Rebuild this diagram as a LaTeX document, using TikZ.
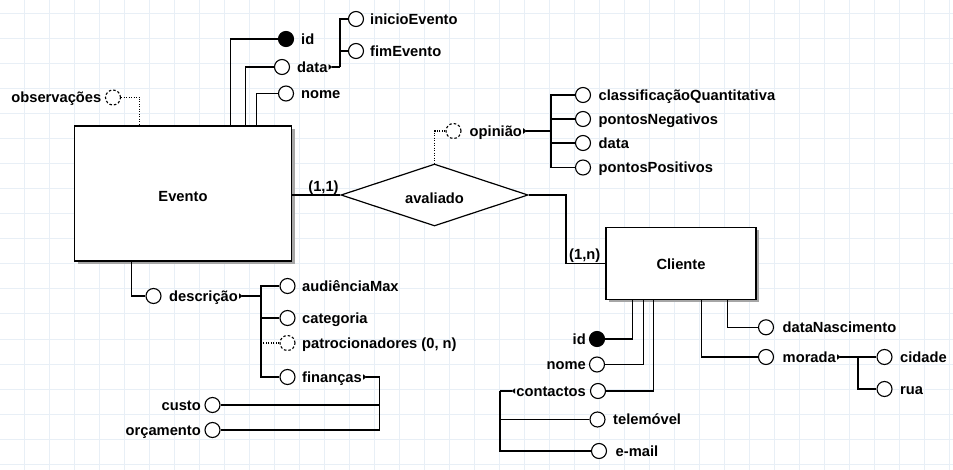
\documentclass[tikz,border=0pt]{standalone}
\usepackage{fontspec}
\setmainfont{Liberation Sans}
\usetikzlibrary{shapes.geometric,shadows,arrows.meta,calc}
\definecolor{gridc}{RGB}{232,239,246}
\newcommand{\mkright}[1]{\fill ([xshift=1pt,yshift=2.8pt]#1.east) -- ([xshift=4.5pt]#1.east) -- ([xshift=1pt,yshift=-2.8pt]#1.east) -- cycle;}
\newcommand{\mkleft}[1]{\fill ([xshift=-1pt,yshift=2.8pt]#1.west) -- ([xshift=-4.5pt]#1.west) -- ([xshift=-1pt,yshift=-2.8pt]#1.west) -- cycle;}
\begin{document}
\begin{tikzpicture}[x=1pt,y=-1pt,
  txt/.style={font=\fontsize{14.7}{17}\selectfont\bfseries, inner sep=0pt, text height=10.5pt, text depth=0pt},
  attr/.style={circle, draw, line width=1.1pt, minimum size=15pt, inner sep=0pt, fill=white},
  keyattr/.style={attr, fill=black},
  optattr/.style={attr, dash pattern=on 2.5pt off 2pt},
  conn/.style={line width=1.2pt},
  optconn/.style={line width=1.1pt, dash pattern=on 1pt off 1.5pt},
  entity/.style={rectangle, draw, line width=1.3pt, fill=white, drop shadow={shadow xshift=3pt, shadow yshift=-3pt, fill=gray!70, opacity=1}, txt},
  rel/.style={diamond, draw, line width=1.2pt, fill=white, aspect=3, inner sep=0pt, txt}
]
% background and grid
\fill[white] (0,0) rectangle (953,470);
\useasboundingbox (0,0) rectangle (953,470);
\foreach \x in {24,49,...,949} \draw[gridc, line width=1pt] (\x,0) -- (\x,470);
\foreach \y in {14,39,...,464} \draw[gridc, line width=1pt] (0,\y) -- (953,\y);

% entities and relationship
\node[entity, minimum width=217pt, minimum height=135pt, text height=16.4pt] (evento) at (183,193.5) {Evento};
\node[entity, minimum width=150pt, minimum height=72pt, text height=13.3pt] (cliente) at (681,263.3) {Cliente};
\node[rel, minimum width=187pt, minimum height=62pt, text height=16.4pt] (aval) at (434.5,195) {avaliado};

\draw[conn] (aval.west) -- (aval.west -| evento.east);
\node[txt] (c11) at (323.5,186) {(1,1)};
\coordinate (bend) at (566,195);
\draw[conn] (aval.east) -- (bend) |- (cliente.west);
\node[txt] (c1n) at (584.7,254.3) {(1,n)};

% Evento top attributes
\node[keyattr] (eId) at (286,39) {};
\node[txt, anchor=west] (eIdT) at (301,39) {id};
\draw[conn] (eId) -| ([xshift=156.5pt]evento.north west);

\node[attr] (eData) at (282,67) {};
\node[txt, anchor=west] (eDataT) at (297,67) {data};
\draw[conn] (eData) -| ([xshift=171.5pt]evento.north west);
\coordinate (dataBus) at (340,67);
\draw[conn] ([xshift=4pt]eDataT.east) -- (dataBus);
\mkright{eDataT}
\node[attr] (ini) at (356,19) {};
\node[txt, anchor=west] (iniT) at (370,19) {inicioEvento};
\node[attr] (fim) at (356,51) {};
\node[txt, anchor=west] (fimT) at (370,51) {fimEvento};
\draw[conn] (ini) -| (dataBus);
\draw[conn] (fim) -| (dataBus);

\node[attr] (eNome) at (286,93.5) {};
\node[txt, anchor=west] (eNomeT) at (301,93.5) {nome};
\draw[conn] (eNome) -| ([xshift=182.5pt]evento.north west);

\node[optattr] (obs) at (113,97.5) {};
\node[txt, anchor=east] (obsT) at (101.5,97.5) {observações};
\draw[optconn] (obs) -| ([xshift=66pt]evento.north west);

% descricao
\node[attr] (desc) at (153.5,296) {};
\node[txt, anchor=west] (descT) at (169,296) {descrição};
\draw[conn] (desc) -| ([xshift=57.5pt]evento.south west);
\coordinate (descBus) at (261,296);
\draw[conn, line width=1.8pt] ([xshift=4pt]descT.east) -- (descBus);
\mkright{descT}
\node[attr] (aud) at (287.5,286) {};
\node[txt, anchor=west] (audT) at (302,286) {audiênciaMax};
\node[attr] (cat) at (287.5,318) {};
\node[txt, anchor=west] (catT) at (302,318) {categoria};
\node[optattr] (pat) at (287.5,343) {};
\node[txt, anchor=west] (patT) at (302,343) {patrocionadores (0, n)};
\node[attr] (fin) at (287.5,377) {};
\node[txt, anchor=west] (finT) at (302,377) {finanças};
\draw[conn] (aud) -| (descBus);
\draw[conn] (cat) -| (descBus);
\draw[optconn] (pat) -- (pat -| descBus);
\draw[conn] (fin) -| (descBus);
\coordinate (finBus) at (379.5,377);
\draw[conn] ([xshift=4pt]finT.east) -- (finBus);
\mkright{finT}
\node[attr] (custo) at (212.5,405) {};
\node[txt, anchor=east] (custoT) at (201,405) {custo};
\node[attr] (orc) at (212.5,430) {};
\node[txt, anchor=east] (orcT) at (201,430) {orçamento};
\draw[conn] (custo) -| (finBus);
\draw[conn] (orc) -| (finBus);

% opiniao
\node[optattr] (opi) at (453.5,131) {};
\node[txt, anchor=west] (opiT) at (469.5,131) {opinião};
\draw[optconn] (opi) -| (aval.north);
\coordinate (opiBus) at (551,131);
\draw[conn, line width=1.8pt] ([xshift=4pt]opiT.east) -- (opiBus);
\mkright{opiT}
\node[attr] (cq) at (583,95) {};
\node[txt, anchor=west] (cqT) at (598.5,95) {classificaçãoQuantitativa};
\node[attr] (pn) at (583,119) {};
\node[txt, anchor=west] (pnT) at (598.5,119) {pontosNegativos};
\node[attr] (od) at (583,143) {};
\node[txt, anchor=west] (odT) at (598.5,143) {data};
\node[attr] (pp) at (583,167.5) {};
\node[txt, anchor=west] (ppT) at (598.5,167.5) {pontosPositivos};
\draw[conn] (cq) -| (opiBus);
\draw[conn] (pn) -| (opiBus);
\draw[conn] (od) -| (opiBus);
\draw[conn] (pp) -| (opiBus);

% Cliente attributes
\node[keyattr] (cId) at (597,339) {};
\node[txt, anchor=east] (cIdT) at (586,339) {id};
\draw[conn] (cId) -| ([xshift=27pt]cliente.south west);
\node[attr] (cNome) at (597,364.5) {};
\node[txt, anchor=east] (cNomeT) at (586,364.5) {nome};
\draw[conn] (cNome) -| ([xshift=38.5pt]cliente.south west);
\node[attr] (cCont) at (598,391) {};
\node[txt, anchor=east] (cContT) at (586,391) {contactos};
\draw[conn] (cCont) -| ([xshift=48.5pt]cliente.south west);
\coordinate (contBus) at (500,391);
\draw[conn] ([xshift=-4pt]cContT.west) -- (contBus);
\mkleft{cContT}
\node[attr] (tel) at (597.5,419.5) {};
\node[txt, anchor=west] (telT) at (613,419.5) {telemóvel};
\node[attr] (mail) at (599,451) {};
\node[txt, anchor=west] (mailT) at (615.5,451) {e-mail};
\draw[conn] (tel) -| (contBus);
\draw[conn] (mail) -| (contBus);

\node[attr] (dn) at (766,327.3) {};
\node[txt, anchor=west] (dnT) at (782.5,327.3) {dataNascimento};
\draw[conn] (dn) -| ([xshift=122pt]cliente.south west);
\node[attr] (mor) at (766,357) {};
\node[txt, anchor=west] (morT) at (782.5,357) {morada};
\draw[conn] (mor) -| ([xshift=96pt]cliente.south west);
\coordinate (morBus) at (858,357);
\draw[conn] ([xshift=4pt]morT.east) -- (morBus);
\mkright{morT}
\node[attr] (cid) at (884.5,357) {};
\node[txt, anchor=west] (cidT) at (900,357) {cidade};
\node[attr] (rua) at (884.5,389) {};
\node[txt, anchor=west] (ruaT) at (900,389) {rua};
\draw[conn] (cid) -| (morBus);
\draw[conn] (rua) -| (morBus);
\end{tikzpicture}
\end{document}
